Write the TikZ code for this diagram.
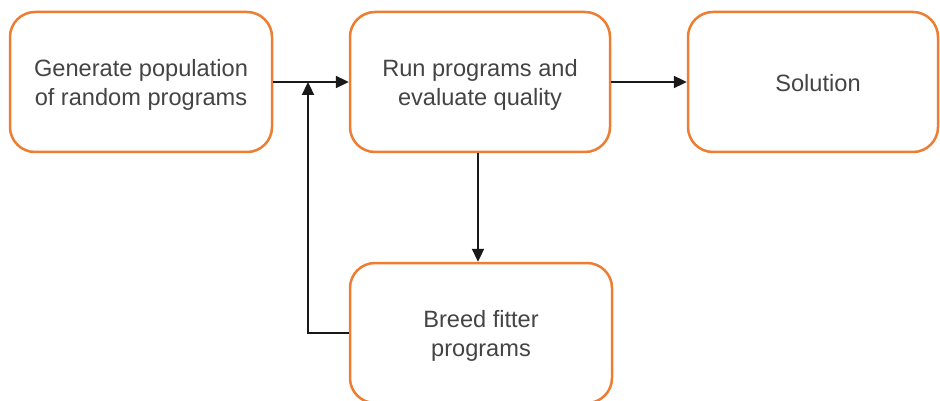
\documentclass[tikz,border=0pt]{standalone}
\usepackage{fontspec}
\setmainfont{Liberation Sans}
\usetikzlibrary{arrows.meta}
\definecolor{boxorange}{RGB}{237,125,49}
\definecolor{textgrey}{RGB}{68,68,68}
\definecolor{linedark}{RGB}{25,25,25}
% strut that lowers the text block a little inside its box
\newcommand{\droptext}{\rule{0pt}{23.5pt}}
\tikzset{
  stage/.style={draw=boxorange, line width=2.5pt, rounded corners=25pt,
    fill=white, minimum height=140pt, text=textgrey, align=center,
    font=\fontsize{23.6}{29}\selectfont, inner sep=0pt},
  flow/.style={draw=linedark, line width=2.3pt,
    -{Triangle[length=13pt,width=12pt]}}
}
\begin{document}
\begin{tikzpicture}[x=1pt,y=-1pt]
  \useasboundingbox (0,0) rectangle (940,401);
  \begin{scope}
    \clip (0,0) rectangle (940,401);
    \node[stage, minimum width=262pt] (gen) at (141,82) {\droptext Generate population\\of random programs};
    \node[stage, minimum width=260pt] (run) at (480,82) {\droptext Run programs and\\evaluate quality};
    \node[stage, minimum width=250pt] (sol) at (813,82) {\rule{0pt}{20pt}\hspace{10pt}Solution};
    \node[stage, minimum width=262pt] (breed) at (481,333) {\droptext Breed fitter\\programs};
    \coordinate (merge) at (308,82);
    \draw[flow] (gen.east) -- (run.west);
    \draw[flow] (run.east) -- (sol.west);
    \draw[flow] (run.south -| 478,0) -- (breed.north -| 478,0);
    \draw[flow] (breed.west) -| (merge);
  \end{scope}
\end{tikzpicture}
\end{document}
